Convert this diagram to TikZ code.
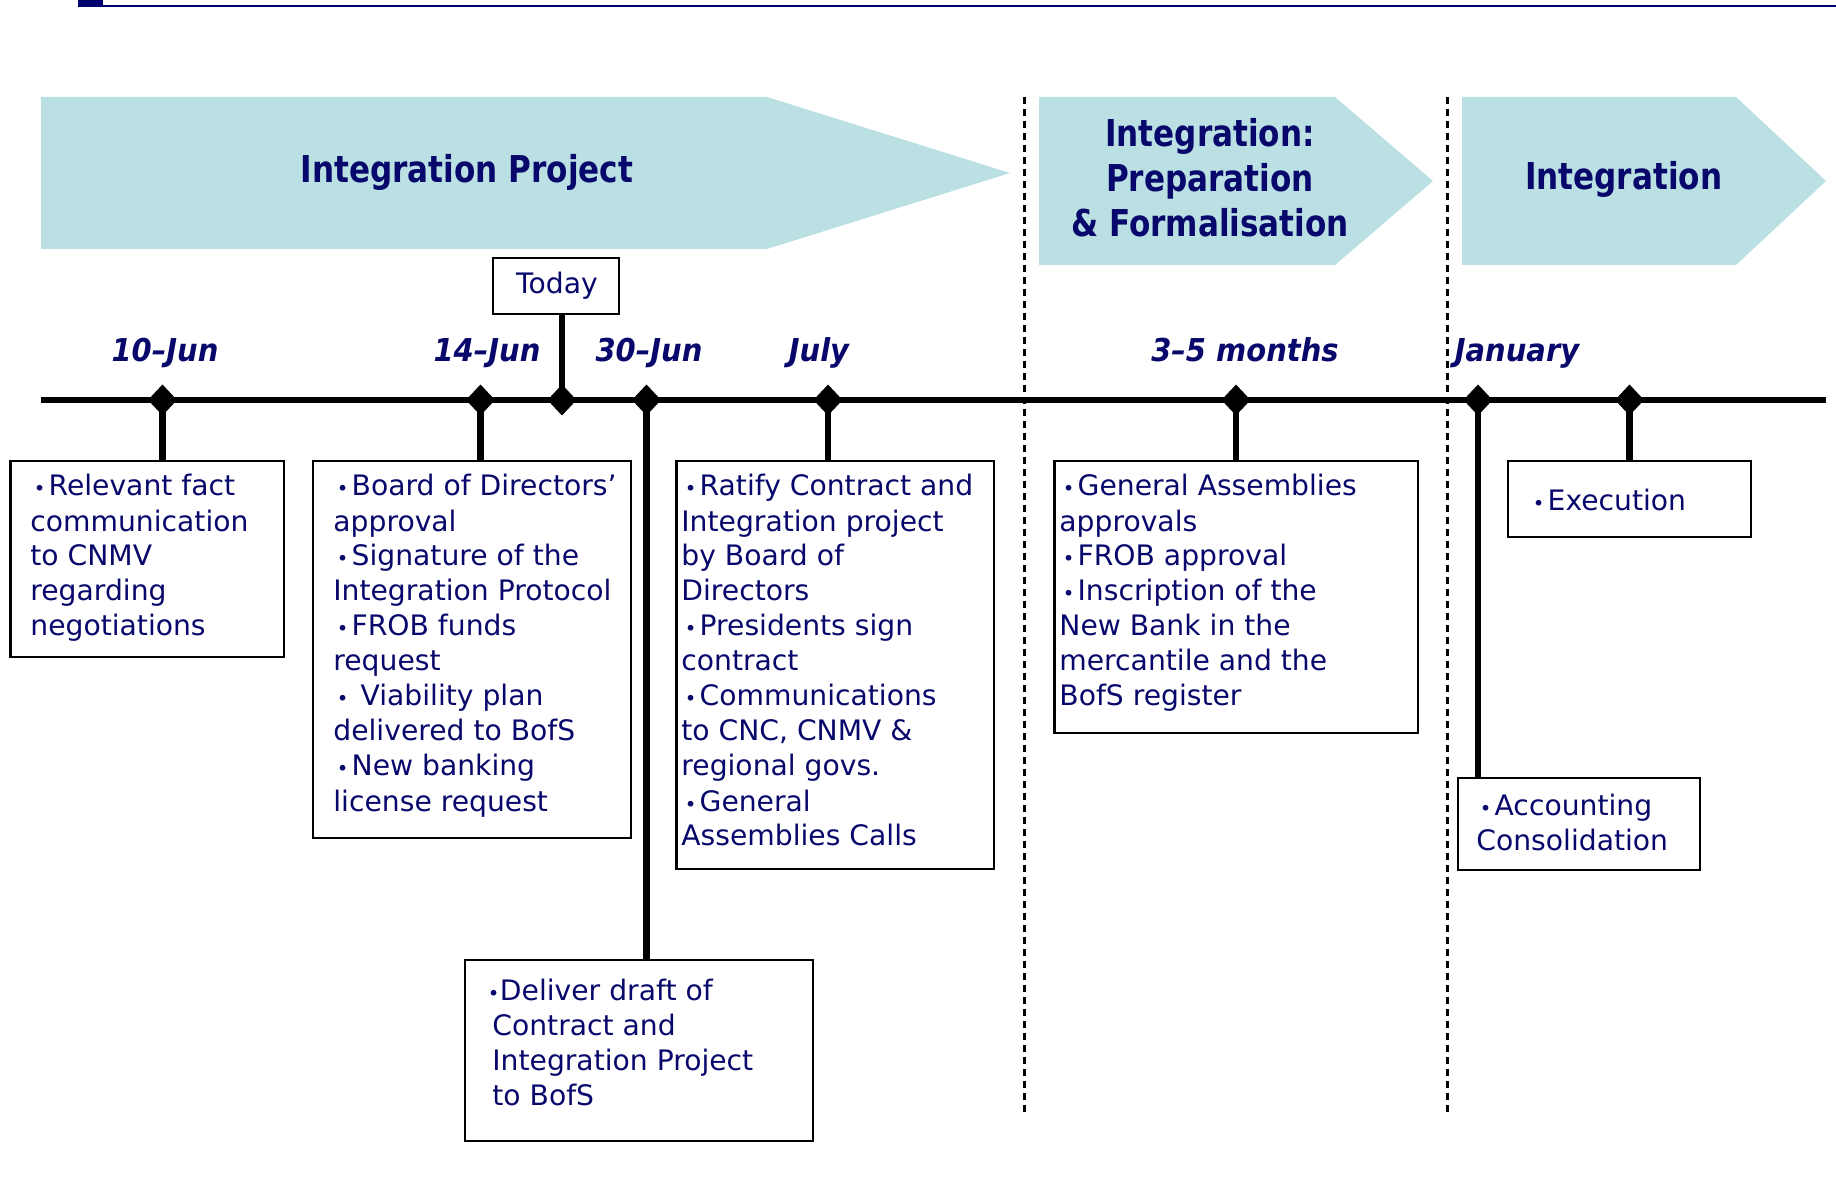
\documentclass[tikz,border=0pt]{standalone}
\usepackage{fontspec}
\setmainfont{DejaVu Sans}
\newfontfamily\hdfont{DejaVu Sans}[FakeStretch=0.84]
\newfontfamily\dtfont{DejaVu Sans}[FakeStretch=0.92]
\usetikzlibrary{fit}
\definecolor{navy}{RGB}{8,8,108}
\definecolor{topnavy}{RGB}{0,0,110}
\definecolor{bannerfill}{RGB}{187,224,227}
\newcommand\dotmark{{\fontsize{9.8}{11}\selectfont •}}
\newcommand\bul{\leavevmode\kern1.7pt\dotmark\kern1.65pt}
\newcommand\bulout{\leavevmode\kern-2.3pt\dotmark\kern0.3pt}
\newcommand\boxtext[1]{\parbox[t]{300pt}{\raggedright\leavevmode #1}}
\tikzset{
  banner/.style={fill=bannerfill, draw=none},
  hd/.style={font=\hdfont\bfseries\fontsize{18.5}{22.35}\selectfont, text=navy, inner sep=0, anchor=base},
  dt/.style={font=\dtfont\bfseries\itshape\fontsize{15.75}{18}\selectfont, text=navy, inner sep=0, anchor=base},
  box/.style={draw=black, line width=1.1pt, fill=white, inner sep=0},
  txt/.style={text=navy, inner sep=0, anchor=base west, font=\fontsize{14.1}{17.5}\selectfont},
  stem/.style={line width=3.1pt},
  tline/.style={line width=3.2pt},
  sep/.style={line width=1.1pt, dash pattern=on 3.5pt off 2.5pt},
}
\begin{document}
\begin{tikzpicture}[x=0.5pt,y=-0.5pt]
\useasboundingbox (0,0) rectangle (1836,1181);
% top rule
\fill[topnavy] (78,0) rectangle (103,7);
\draw[topnavy, line width=1pt] (78,6) -- (1836,6);
% phase separators
\draw[sep] (1024.5,97) -- (1024.5,1112);
\draw[sep] (1447.5,97) -- (1447.5,1112);
% banners
\fill[banner] (41,97) -- (767,97) -- (1010,173) -- (767,249) -- (41,249) -- cycle;
\fill[banner] (1039,97) -- (1335,97) -- (1433,181) -- (1335,265) -- (1039,265) -- cycle;
\fill[banner] (1462,97) -- (1736,97) -- (1826,181) -- (1736,265) -- (1462,265) -- cycle;
\node[hd] (h1) at (467,183) {Integration Project};
\node[hd] (h2) at (1210,146.7) {\parbox[t]{200pt}{\centering Integration:\\Preparation\\\& Formalisation}};
\node[hd] (h3) at (1623.6,190) {Integration};
% dates
\node[dt] (l1) at (165,362) {10–Jun};
\node[dt] (l2) at (487,362) {14–Jun};
\node[dt] (l3) at (649,362) {30–Jun};
\node[dt] (l4) at (819,362) {July};
\node[dt] (l5) at (1245,362) {3–5 months};
\node[dt] (l6) at (1517,362) {January};
% timeline coordinates
\coordinate (tl0) at (41,400);
\coordinate (tl1) at (1826,400);
\coordinate (c1) at (162.5,400);
\coordinate (c2) at (480.5,400);
\coordinate (cT) at (562,400);
\coordinate (c3) at (646.5,400);
\coordinate (c4) at (828,400);
\coordinate (c5) at (1236,400);
\coordinate (c6) at (1478,400);
\coordinate (c7) at (1629.5,400);
% boxes
\node[box, fit={(10.5,461) (284,657)}] (b1) {};
\node[box, fit={(313,461) (631,838)}] (b2) {};
\node[box, fit={(676.5,461) (994,869)}] (b3) {};
\node[box, fit={(1054.5,461) (1418,733)}] (b4) {};
\node[box, fit={(1508,461) (1751,537)}] (b5) {};
\node[box, fit={(1458,778) (1700,870)}] (b6) {};
\node[box, fit={(465,960) (813,1141)}] (b7) {};
\node[box, fit={(493,258) (619,314)}] (today) {};
\node[txt, anchor=center] (ttoday) at (557,286) {Today};
% stems
\draw[stem] (c1) -- (c1 |- b1.north);
\draw[stem] (c2) -- (c2 |- b2.north);
\draw[stem] (cT) -- (cT |- today.south);
\draw[stem] (c3) -- (c3 |- b7.north);
\draw[stem] (c4) -- (c4 |- b3.north);
\draw[stem] (c5) -- (c5 |- b4.north);
\draw[stem] (c6) -- (c6 |- b6.north);
\draw[stem] (c7) -- (c7 |- b5.north);
% timeline
\draw[tline] (tl0) -- (tl1);
\foreach \c in {c1,c2,cT,c3,c4,c5,c6,c7}
  \fill[black, shift={(\c)}] (-14.5,0) -- (0,-15.5) -- (14.5,0) -- (0,15.5) -- cycle;
% box texts
\node[txt] (t1) at (30,496) {\boxtext{\bul Relevant fact\\communication\\to CNMV\\regarding\\negotiations}};
\node[txt] (t2) at (333,496) {\boxtext{\bul Board of Directors’\\approval\\\bul Signature of the\\Integration Protocol\\\bul FROB funds\\request\\\bul\ Viability plan\\delivered to BofS\\\bul New banking\\license request}};
\node[txt] (t3) at (681,496) {\boxtext{\bul Ratify Contract and\\Integration project\\by Board of\\Directors\\\bul Presidents sign\\contract\\\bul Communications\\to CNC, CNMV \&\\regional govs.\\\bul General\\Assemblies Calls}};
\node[txt] (t4) at (1059,496) {\boxtext{\bul General Assemblies\\approvals\\\bul FROB approval\\\bul Inscription of the\\New Bank in the\\mercantile and the\\BofS register}};
\node[txt] (t5) at (1529,511) {\boxtext{\bul Execution}};
\node[txt] (t6) at (1476,815) {\boxtext{\bul Accounting\\Consolidation}};
\node[txt] (t7) at (492,1000) {\boxtext{\bulout Deliver draft of\\Contract and\\Integration Project\\to BofS}};
\end{tikzpicture}
\end{document}
